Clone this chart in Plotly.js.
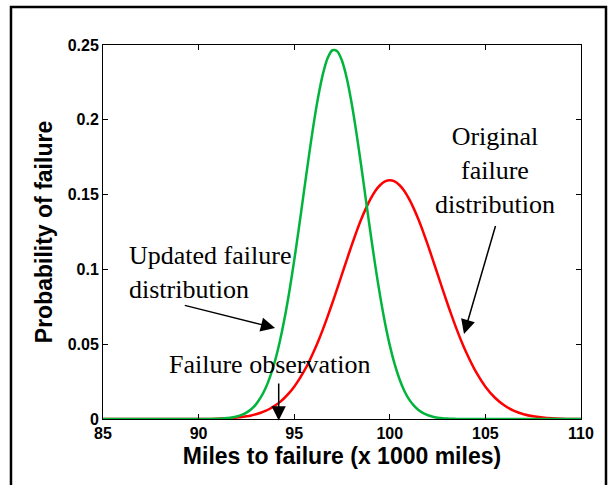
<!DOCTYPE html>
<html>
<head>
<meta charset="utf-8">
<script src="https://cdn.plot.ly/plotly-3.0.1.min.js"></script>
<style>html,body{margin:0;padding:0;background:#fff;}#chart{width:611px;height:485px;}</style>
</head>
<body>
<div id="chart"></div>
<script>
// Miles to failure (x 1000 miles)
const miles = [85, 86, 87, 88, 89, 90, 90.5,
  91, 91.25, 91.5, 91.75, 92, 92.25, 92.5, 92.75, 93, 93.25, 93.5, 93.75,
  94, 94.25, 94.5, 94.75, 95, 95.25, 95.5, 95.75, 96, 96.25, 96.5, 96.75,
  97, 97.25, 97.5, 97.75, 98, 98.25, 98.5, 98.75, 99, 99.25, 99.5, 99.75,
  100, 100.25, 100.5, 100.75, 101, 101.25, 101.5, 101.75, 102, 102.25, 102.5, 102.75,
  103, 103.25, 103.5, 103.75, 104,
  104.5, 105, 105.5, 106, 106.5, 107, 107.5, 108, 108.5, 109, 109.5, 110];

// Original failure distribution (red)
const originalFailure = [0, 0, 0, 0, 0, 0, 0,
  0.0002, 0.0004, 0.0005, 0.0007, 0.001, 0.0013, 0.0018, 0.0024, 0.0032, 0.0042, 0.0054, 0.007,
  0.009, 0.0113, 0.0142, 0.0176, 0.0216, 0.0263, 0.0316, 0.0376, 0.0444, 0.0518, 0.0599, 0.0686,
  0.0777, 0.0872, 0.0968, 0.1064, 0.1159, 0.1249, 0.1333, 0.1408, 0.1473, 0.1526, 0.1564, 0.1588,
  0.1596, 0.1588, 0.1564, 0.1526, 0.1473, 0.1408, 0.1333, 0.1249, 0.1159, 0.1064, 0.0968, 0.0872,
  0.0777, 0.0686, 0.0599, 0.0518, 0.0444,
  0.0316, 0.0216, 0.0142, 0.009, 0.0054, 0.0032, 0.0018, 0.001, 0.0005, 0.0002, 0, 0];

// Updated failure distribution (green)
const updatedFailure = [0, 0, 0, 0, 0, 0, 0,
  0.0002, 0.0003, 0.0006, 0.001, 0.0017, 0.0027, 0.0043, 0.0065, 0.0098, 0.0144, 0.0205, 0.0287,
  0.039, 0.052, 0.0675, 0.0856, 0.106, 0.1281, 0.1511, 0.1741, 0.1958, 0.215, 0.2305, 0.2413,
  0.2465, 0.2459, 0.2395, 0.2278, 0.2114, 0.1916, 0.1696, 0.1465, 0.1235, 0.1017, 0.0818, 0.0642,
  0.0492, 0.0368, 0.0269, 0.0191, 0.0133, 0.0091, 0.006, 0.0039, 0.0025, 0.0015, 0.0009, 0.0005,
  0.0003, 0.0002, 0, 0, 0,
  0, 0, 0, 0, 0, 0, 0, 0, 0, 0, 0, 0];

const xTickVals = [85, 90, 95, 100, 105, 110];
const xTickText = ['85', '90', '95', '100', '105', '110'];
const yTickVals = [0, 0.05, 0.1, 0.15, 0.2, 0.25];
const yTickText = ['0', '0.05', '0.1', '0.15', '0.2', '0.25'];

const labelOriginal = 'Original<br>failure<br>distribution';
const labelUpdated = 'Updated failure<br>distribution';
const labelObservation = 'Failure observation';

const traces = [
  {x: miles, y: originalFailure, type: 'scatter', mode: 'lines',
   line: {color: '#ff0000', width: 2.5, shape: 'spline', smoothing: 0.8}, hoverinfo: 'skip'},
  {x: miles, y: updatedFailure, type: 'scatter', mode: 'lines',
   line: {color: '#00b43c', width: 2.5, shape: 'spline', smoothing: 0.8}, hoverinfo: 'skip'}
];

const serif = {family: 'Liberation Serif, Times New Roman, serif', size: 26, color: '#000'};
const arrowCommon = {text: '', showarrow: true, axref: 'x', ayref: 'y', xref: 'x', yref: 'y',
  arrowhead: 2, arrowsize: 1.9, arrowwidth: 1.5, arrowcolor: '#000', standoff: 0, startstandoff: 0};

const layout = {
  width: 611, height: 485,
  margin: {l: 103, r: 30, t: 45, b: 66},
  paper_bgcolor: '#fff', plot_bgcolor: '#fff',
  showlegend: false,
  font: {family: 'Liberation Sans, Arial, sans-serif', color: '#000'},
  xaxis: {
    range: [85, 110], tickvals: xTickVals, ticktext: xTickText,
    ticks: 'inside', ticklen: 5, tickcolor: '#000', tickwidth: 1,
    showline: true, linecolor: '#000', linewidth: 1, mirror: 'ticks',
    showgrid: false, zeroline: false,
    tickfont: {size: 16, weight: 'bold', color: '#000'},
    title: {text: 'Miles to failure (x 1000 miles)', font: {size: 23, weight: 'bold', color: '#000'}, standoff: 6}
  },
  yaxis: {
    range: [0, 0.25], tickvals: yTickVals, ticktext: yTickText,
    ticks: 'inside', ticklen: 5, tickcolor: '#000', tickwidth: 1,
    showline: true, linecolor: '#000', linewidth: 1, mirror: 'ticks',
    showgrid: false, zeroline: false,
    tickfont: {size: 16, weight: 'bold', color: '#000'},
    title: {text: 'Probability of failure', font: {size: 23, weight: 'bold', color: '#000'}, standoff: 8}
  },
  shapes: [
    {type: 'rect', xref: 'paper', yref: 'paper', x0: -0.1925, x1: 1.0523, y0: -0.2, y1: 1.1016,
     line: {color: '#000', width: 2.5}, fillcolor: 'rgba(0,0,0,0)', layer: 'above'}
  ],
  annotations: [
    {text: labelOriginal, x: 105.5, y: 0.1664, xref: 'x', yref: 'y', showarrow: false,
     xanchor: 'center', yanchor: 'middle', align: 'center', font: serif},
    {text: labelUpdated, x: 86.24, y: 0.0976, xref: 'x', yref: 'y', showarrow: false,
     xanchor: 'left', yanchor: 'middle', align: 'left', font: serif},
    {text: labelObservation, x: 88.33, y: 0.0361, xref: 'x', yref: 'y', showarrow: false,
     xanchor: 'left', yanchor: 'middle', align: 'left', font: serif},
    Object.assign({x: 94.0, y: 0.0608, ax: 89.2, ay: 0.0762}, arrowCommon),
    Object.assign({x: 94.19, y: -0.001, ax: 94.19, ay: 0.0247}, arrowCommon),
    Object.assign({x: 103.88, y: 0.0568, ax: 105.55, ay: 0.130}, arrowCommon)
  ]
};

Plotly.newPlot('chart', traces, layout, {displayModeBar: false, staticPlot: true});
</script>
</body>
</html>
